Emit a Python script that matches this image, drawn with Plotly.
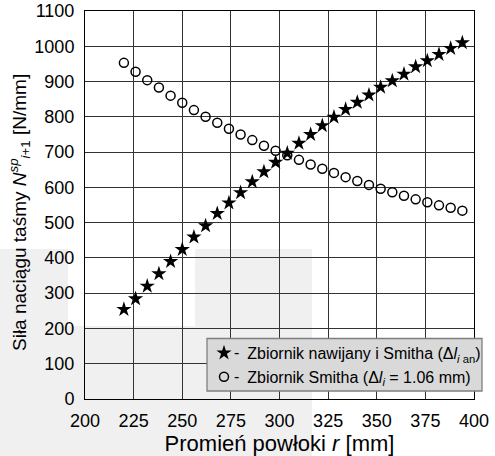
import plotly.graph_objects as go

# Shell radius r [mm]
radius = [220, 226, 232, 238, 244, 250, 256, 262, 268, 274,
          280, 286, 292, 298, 304, 310, 316, 322, 328, 334,
          340, 346, 352, 358, 364, 370, 376, 382, 388, 394]

# Strip tension force, wound tank and Smith tank (Δl_i an)
force_wound = [254, 284, 320, 355, 390, 424, 459, 491, 526, 556,
               585, 616, 644, 671, 697, 725, 750, 775, 799, 821,
               841, 862, 884, 902, 921, 942, 959, 977, 994, 1010]

# Strip tension force, Smith tank (Δl_i = 1.06 mm)
force_smith = [953, 928, 904, 883, 860, 840, 819, 800, 783, 766,
               750, 734, 718, 704, 691, 678, 665, 653, 641, 629,
               618, 607, 596, 586, 576, 566, 558, 549, 542, 534]

x_ticks = [200, 225, 250, 275, 300, 325, 350, 375, 400]
y_ticks = [0, 100, 200, 300, 400, 500, 600, 700, 800, 900, 1000, 1100]

FONT = "Liberation Sans, Arial, sans-serif"
W, H = 495, 456
ML, MR, MT, MB = 85, 21, 11, 57
PW, PH = W - ML - MR, H - MT - MB


def px(x):
    return (x - ML) / PW


def py(y):
    return (H - MB - y) / PH


fig = go.Figure()

fig.add_trace(go.Scatter(
    x=radius, y=force_wound, mode="markers",
    name="\u2009Zbiornik nawijany i Smitha (Δ<i>l</i><sub><i>i</i> an</sub>)",
    marker=dict(symbol="star", size=11.5, color="black", line=dict(width=0)),
))
fig.add_trace(go.Scatter(
    x=radius, y=force_smith, mode="markers",
    name="\u2009Zbiornik Smitha (Δ<i>l</i><sub><i>i</i></sub> = 1.06 mm)",
    marker=dict(symbol="circle-open", size=9, color="black", line=dict(width=1.5)),
))

shapes = []
# faint background emblem
grey = "#f0f0f0"
for x0, y0, x1, y1 in [(0, 249, 68, 456), (68, 326, 195, 456), (195, 249, 312, 456)]:
    shapes.append(dict(type="rect", xref="paper", yref="paper",
                       x0=px(x0), x1=px(x1), y0=py(y1), y1=py(y0),
                       fillcolor=grey, line=dict(width=0), layer="below"))
# legend box
shapes.append(dict(type="rect", xref="paper", yref="paper",
                   x0=px(207), x1=px(482), y0=py(391), y1=py(338.5),
                   fillcolor="#d9d9d9", line=dict(color="#7f7f7f", width=1.3),
                   layer="above"))

annotations = []
for yy in (352, 376):
    annotations.append(dict(x=px(236), y=py(yy), xref="paper", yref="paper",
                            text="-", showarrow=False, xanchor="center",
                            yanchor="middle", font=dict(family=FONT, size=16, color="black")))

# y-axis title
annotations.append(dict(
    x=px(20), y=py(213), xref="paper", yref="paper", showarrow=False,
    xanchor="center", yanchor="middle", textangle=-90,
    text="Siła naciągu taśmy <i>N</i><sup><i>sp</i></sup><sub><i>i</i>+1</sub> [N/mm]",
    font=dict(family=FONT, size=19, color="black"),
))

fig.update_layout(
    width=W, height=H,
    margin=dict(l=ML, r=MR, t=MT, b=MB, autoexpand=False),
    paper_bgcolor="white",
    plot_bgcolor="rgba(0,0,0,0)",
    font=dict(family=FONT, color="black"),
    shapes=shapes,
    annotations=annotations,
    showlegend=True,
    legend=dict(
        x=px(204), y=py(336), xanchor="left", yanchor="top",
        bgcolor="rgba(0,0,0,0)", borderwidth=0,
        font=dict(family=FONT, size=16, color="black"),
        itemwidth=30, tracegroupgap=0,
    ),
)

fig.update_xaxes(
    range=[200, 400], tickvals=x_ticks, ticks="", ticklabelstandoff=5,
    automargin=False,
    showgrid=True, gridcolor="#333333", gridwidth=1,
    showline=True, linecolor="black", linewidth=1, mirror=True,
    zeroline=False, tickfont=dict(family=FONT, size=18, color="black"),
    title=dict(text="Promień powłoki <i>r</i> [mm]",
               font=dict(family=FONT, size=22, color="black"), standoff=4),
)
fig.update_yaxes(
    range=[0, 1100], tickvals=y_ticks, ticks="", ticklabelstandoff=6,
    automargin=False,
    showgrid=True, gridcolor="#333333", gridwidth=1,
    showline=True, linecolor="black", linewidth=1, mirror=True,
    zeroline=False, tickfont=dict(family=FONT, size=18, color="black"),
)

fig.write_html("out.html")
